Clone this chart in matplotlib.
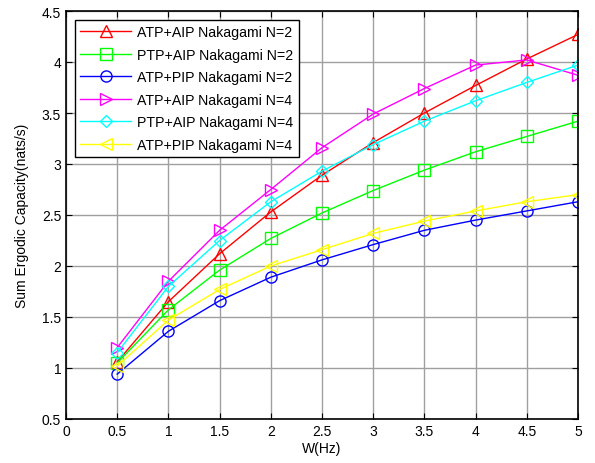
import matplotlib
matplotlib.use("Agg")
import matplotlib.pyplot as plt

plt.rcParams['font.family'] = ['Liberation Sans', 'DejaVu Sans']

# data
w = [0.5, 1, 1.5, 2, 2.5, 3, 3.5, 4, 4.5, 5]
atp_aip_n2 = [1.06, 1.65, 2.12, 2.53, 2.89, 3.21, 3.50, 3.77, 4.03, 4.27]
ptp_aip_n2 = [1.05, 1.57, 1.96, 2.27, 2.52, 2.74, 2.94, 3.12, 3.27, 3.42]
atp_pip_n2 = [0.94, 1.36, 1.66, 1.89, 2.06, 2.21, 2.35, 2.45, 2.54, 2.63]
atp_aip_n4 = [1.20, 1.85, 2.35, 2.75, 3.16, 3.49, 3.74, 3.97, 4.02, 3.87]
ptp_aip_n4 = [1.15, 1.80, 2.25, 2.63, 2.93, 3.19, 3.42, 3.62, 3.80, 3.97]
atp_pip_n4 = [1.02, 1.47, 1.77, 2.00, 2.16, 2.32, 2.44, 2.54, 2.63, 2.70]

labels = ["ATP+AIP Nakagami N=2", "PTP+AIP Nakagami N=2", "ATP+PIP Nakagami N=2",
          "ATP+AIP Nakagami N=4", "PTP+AIP Nakagami N=4", "ATP+PIP Nakagami N=4"]
series = [atp_aip_n2, ptp_aip_n2, atp_pip_n2, atp_aip_n4, ptp_aip_n4, atp_pip_n4]
colors = ["#ff0000", "#00ff00", "#0000ff", "#ff00ff", "#00ffff", "#ffff00"]
markers = ["^", "s", "o", ">", "D", "<"]

fig = plt.figure(figsize=(5.95, 4.64), dpi=100)
ax = fig.add_axes([66 / 595, 1 - 420 / 464, 512 / 595, 408 / 464])

for y, lab, c, m in zip(series, labels, colors, markers):
    ms = 6.5 if m == "D" else 8
    ax.plot(w, y, color=c, marker=m, markersize=ms, markerfacecolor="none",
            markeredgecolor=c, linewidth=1, label=lab)

ax.set_xlim(0, 5)
ax.set_ylim(0.5, 4.5)
ax.set_xticks([0, 0.5, 1, 1.5, 2, 2.5, 3, 3.5, 4, 4.5, 5])
ax.set_xticklabels(["0", "0.5", "1", "1.5", "2", "2.5", "3", "3.5", "4", "4.5", "5"])
ax.set_yticks([0.5, 1, 1.5, 2, 2.5, 3, 3.5, 4, 4.5])
ax.set_yticklabels(["0.5", "1", "1.5", "2", "2.5", "3", "3.5", "4", "4.5"])
ax.grid(True, color="#a0a0a0", linewidth=1)
ax.tick_params(direction="in", top=True, right=True, labelsize=10, length=4)
for s in ax.spines.values():
    s.set_linewidth(1.2)

ax.set_xlabel("W(Hz)", fontsize=10, labelpad=2)
ax.set_ylabel("Sum Ergodic Capacity(nats/s)", fontsize=10, labelpad=9)

leg = ax.legend(loc="upper left", fontsize=10.2, fancybox=False, framealpha=1,
                edgecolor="black", handlelength=3.6, handletextpad=0.4,
                borderaxespad=0.6, labelspacing=0.6)
leg.get_frame().set_linewidth(1)

fig.savefig("out.png", dpi=100)
